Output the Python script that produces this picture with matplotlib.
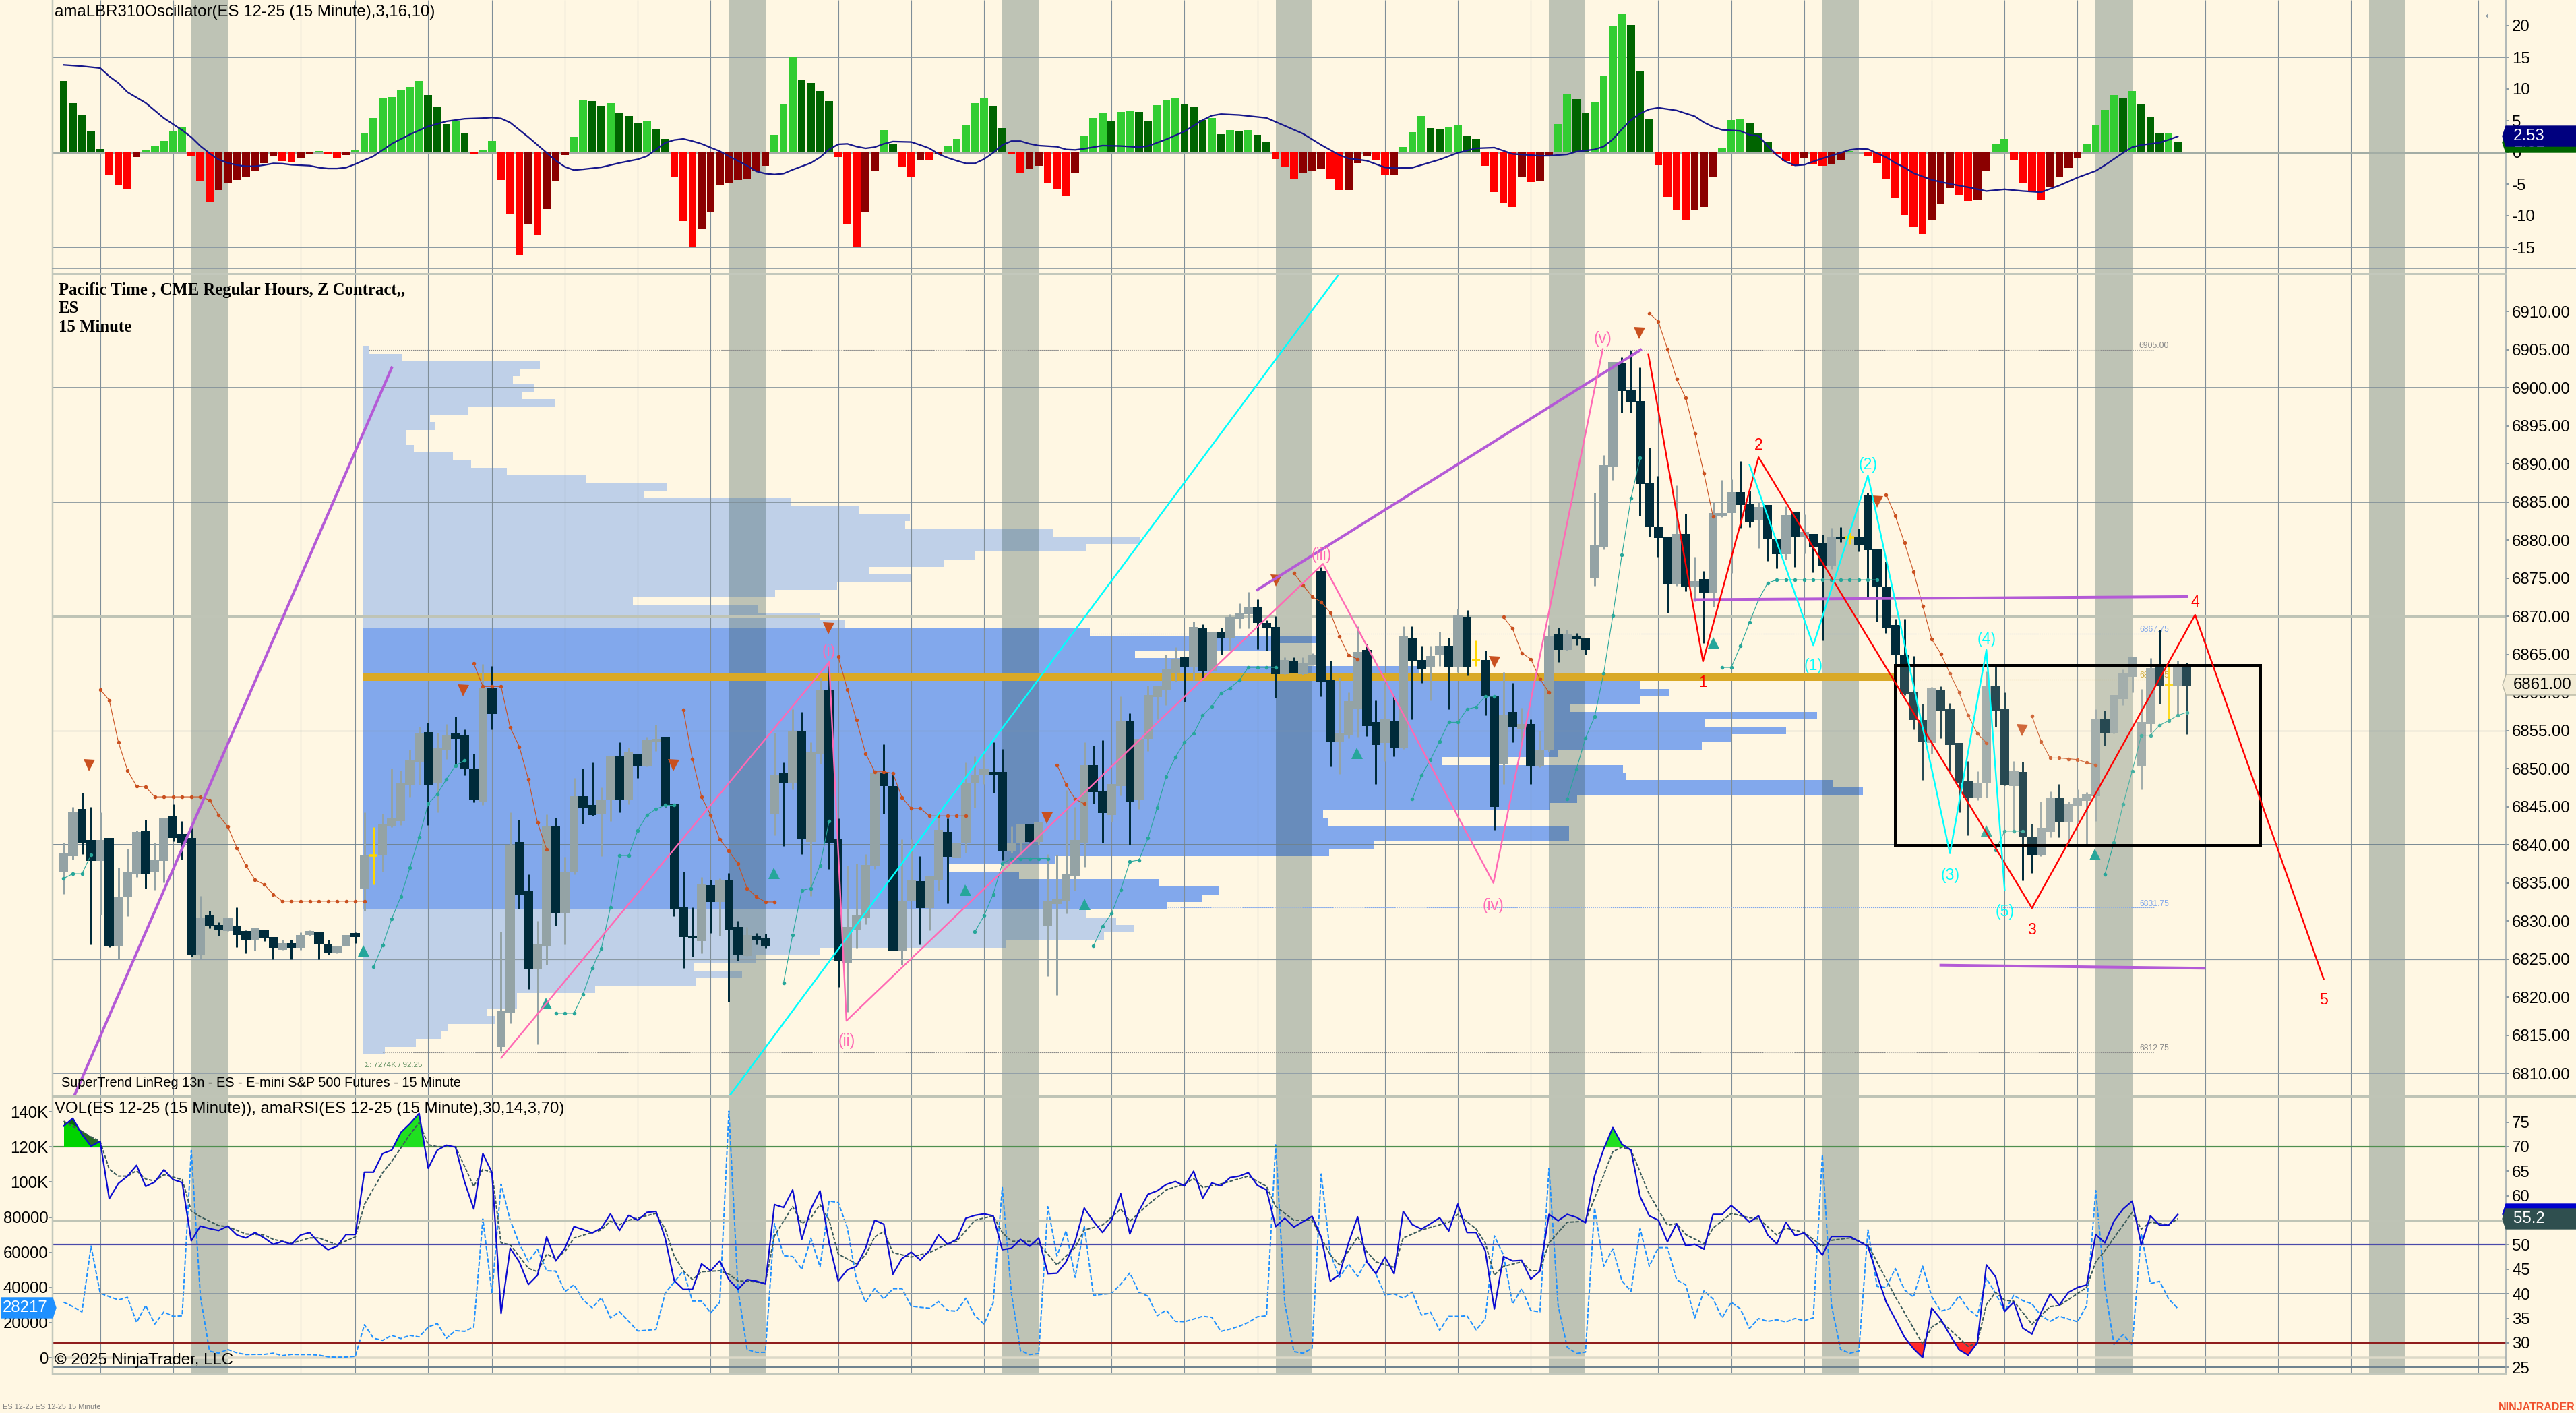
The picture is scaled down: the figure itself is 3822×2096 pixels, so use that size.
import numpy as np
import matplotlib
matplotlib.use("Agg")
import matplotlib.pyplot as plt
from matplotlib.patches import Polygon, Rectangle

plt.rcParams['font.family'] = ['Liberation Sans', 'DejaVu Sans']

# ---------- oscillator ----------
HIST_KIND = ("DDDDDRRRML" "LLLLRRRMMM" "MMMMRRMMLR" "RMLLLLLLLL" "DDDLDRLLRR" "RMRMMMLLDD" "LDDDLDDRRR" "MMMMMMMMLL"
             "LDDDDRRRMM" "LDRRMRMLLL" "LLDDRRMMRR" "RMLLLDLLDD" "LLLDDDLDLD" "LDDRRRMMMR" "RMMMRRMLLL" "DDLLDDRRRR"
             "MRMMLLDDLL" "LLDDDRRRRM" "MMLLLDDDRR" "RMRRMMLLRR" "RRRRRMMMRR" "MMLLRRRRMM" "MMLLLLDLDD" "DLD")
HIST = [11.23,7.75,5.97,3.41,.57,-3.63,-5.15,-5.87,-.71,.43,
        1.07,1.78,3.31,3.95,-.53,-4.48,-7.79,-5.94,-4.8,-4.37,
        -3.91,-2.95,-1.74,-.64,-1.42,-1.49,-.82,-.32,.21,-.18,
        -.85,-.39,.32,3.09,5.44,8.67,8.75,9.92,10.34,11.3,
        9.07,7.22,4.48,4.91,2.95,-.21,.32,1.78,-4.34,-9.7,
        -16.2,-11.4,-13,-8.9,-4.48,-.39,2.45,8.2,8.1,7.36,
        7.79,6.29,5.76,4.66,4.91,3.73,2.1,-3.91,-10.88,-14.9,
        -12.16,-9.35,-5.15,-4.87,-4.37,-4.19,-2.99,-2.17,2.77,7.68,
        15,11.41,10.98,9.7,8.07,-.71,-11.3,-14.93,-9.49,-2.84,
        3.52,1.32,-2.24,-3.95,-1.32,-1.32,-.36,1.07,2.17,4.37,
        7.79,8.64,7.36,3.8,-.32,-3.2,-2.67,-2.17,-4.8,-5.87,
        -6.79,-3.2,2.52,5.44,6.29,4.91,6.36,6.5,6.43,4.91,
        7.47,8.2,8.5,7.71,7.15,5.15,5.44,2.88,3.52,3.31,
        3.52,2.77,1.74,-1.07,-2.35,-4.23,-3.34,-2.95,-2.56,-4.3,
        -6,-5.94,-1.67,-.53,-1.28,-3.63,-3.52,.89,3.2,5.72,
        3.87,3.73,3.95,4.3,2.6,2.1,-2.1,-6.29,-8,-8.57,
        -3.95,-4.66,-4.55,-.53,4.48,9.28,8.43,6.29,8,12.16,
        19.94,21.83,20.1,12.76,5.23,-2.03,-7.04,-8.99,-10.63,-9.06,
        -8.57,-3.8,.64,5.15,5.23,4.73,3.09,1.67,-.21,-1.42,
        -2.1,-.89,-1.81,-2.1,-1.92,-1.32,.21,.05,-.5,-1.67,
        -4.16,-7.15,-9.85,-11.84,-12.9,-10.77,-8.14,-5.65,-6.72,-7.71,
        -7.47,-2.84,1.24,2.1,-1.21,-4.9,-6.11,-7.47,-5.58,-3.8,
        -2.49,-.96,1.32,4.23,6.65,9.07,8.67,9.7,7.57,5.69,
        2.95,3.09,1.6]
SIG_I = [0,2,4,5,6,7,9,11,13,14,15,16,17,18,19,20,21,22,23,24,25,27,28,29,30,31,32,34,36,38,40,42,44,46,47,48,49,51,53,54,55,56,57,59,61,63,64,65,66,67,68,69,70,71,72,73,74,75,76,77,78,79,80,82,83,84,85,86,87,88,89,
         90,91,93,94,95,96,97,98,99,100,101,102,103,104,105,106,107,109,110,111,112,114,116,118,119,121,123,125,126,127,129,132,134,136,138,140,141,143,145,146,148,151,153,155,157,159,162,163,165,166,168,169,170,171,172,173,174,175,177,179,180,181,182,184,185,
         186,187,188,189,190,191,193,195,196,197,198,199,200,201,202,203,205,207,209,211,213,215,217,219,221,223,224,226,227,228,230,231,232]
SIG_V = [13.8,13.6,13.3,12,10.95,9.5,7.8,5.4,3.5,2.4,1,-.14,-1.14,-1.67,-2,-2.2,-2.2,-2,-1.74,-1.78,-1.96,-2.1,-2.4,-2.56,-2.56,-2.4,-1.85,-.6,1.35,2.84,4.1,4.9,5.3,5.4,5.5,5.35,4.7,2.4,-.07,-1.3,-2.28,-2.8,-2.67,-2.35,-1.67,-1.1,-.6,.46,1.5,1.95,2.13,1.78,1.35,.75,.18,-.6,-1.35,-2.1,-2.99,-3.34,-3.48,-3.34,-2.74,-1.67,-.78,.46,1.28,1.35,.92,.64,.82,
         1.35,1.71,1.64,1.17,.64,-.25,-.85,-1.32,-1.74,-1.74,-1.07,-.07,1.17,1.78,1.78,1.35,1.07,.89,.46,.39,.57,1.07,1,.82,1,2.06,3.31,5.1,5.8,6.04,5.9,5.44,4.2,2.95,1.17,-.43,-.96,-1.32,-2.38,-2.49,-2.42,-1.14,-.07,.64,.75,-.25,-.53,-.53,-.32,.11,.46,.92,2.06,3.66,5.1,6.15,6.79,7.04,6.61,5.69,4.73,4.02,3.55,3.38,2.77,
         2.6,1,-.43,-1.49,-2.06,-1.96,-.96,-.07,.39,.57,.5,-.14,-.78,-1.67,-2.38,-3.27,-4.34,-4.98,-5.51,-6.11,-5.83,-6.11,-6.29,-5.23,-3.98,-2.92,-2.03,-.07,.82,1.17,1.53,1.99,2.52]

# ---------- candles ----------
C_KIND = ("GGDDGDGGGD" "GGDDDGDDGD" "DGDDGDGGDD" "GGDGYGGGGG" "DGGDDDGDGG" "DDGGDGGDDG" "GDGDGGDDDD" "GDGDDGDDGD"
          "GDGGDDGGGG" "DDGGDGGDGG" "GGDDGGDGGG" "GGGDDGGDGG" "GGGDGDGDGG" "GDDDGDGGDD" "GGGDDGDGDD" "GGDGDYDDGD"
          "GDGGDGDDGG" "GDDDDDDGDG" "DGGGDDGDDG" "DGDDGDYDDD" "DDDDDGDDDD" "GGDDGDDGGD" "GGGGDGGGGG" "DYGD")
B_TOP = [6838.9,6844.4,6844.7,6840.6,6840.6,6840.9,6833.2,6836.4,6841.7,6841.9,
         6838.1,6843.5,6843.7,6841.4,6840.9,6830.4,6830.7,6829.5,6830.4,6829.4,
         6828.7,6829,6828.9,6827.9,6827.1,6827.1,6828.2,6828.7,6828.5,6827,
         6826.7,6828.2,6828.4,6838.7,6838.6,6842.7,6843.5,6848.1,6851.2,6854.7,
         6854.8,6852.7,6854.4,6854.6,6854.4,6849.9,6860.6,6860.6,6818.2,6839.9,
         6840.4,6833.9,6827,6842.5,6842.4,6836.4,6846.4,6846.4,6845.2,6845.9,
         6851.7,6851.7,6852.2,6851.9,6853.7,6853.9,6854.2,6845.4,6831.9,6828.1,
         6834.9,6834.7,6835.4,6835.4,6829.2,6828.2,6828.1,6827.7,6849.1,6849.4,
         6854.9,6854.9,6852.2,6860.4,6860.4,6840.7,6829.2,6830.7,6837.4,6849.4,
         6849.4,6847.7,6832.7,6835.4,6835.2,6835.9,6842,6841.7,6840.2,6848.1,
         6849.2,6849.9,6849.6,6849.6,6840.2,6842.7,6842.7,6843,6832.7,6832.9,
         6836.2,6840.6,6850.5,6850.5,6847.1,6848,6856.2,6856.2,6853.9,6859.7,
         6860.9,6863.1,6864.4,6864.6,6868.6,6868.5,6867.9,6867.9,6869.9,6870.4,
         6871.3,6871.3,6869.1,6868.6,6864.3,6864.1,6863.8,6864.9,6876,6861.6,
         6854.6,6858.9,6865.3,6865.6,6856.1,6856.6,6856.3,6867.4,6867.1,6864.3,
         6864.8,6866.1,6866.1,6870.1,6869.9,6864.3,6864.3,6859.5,6857.1,6857.5,
         6855.9,6855.9,6852.4,6867.4,6867.6,6867.6,6867.4,6867.1,6879.3,6889.9,
         6903.4,6903.3,6899.8,6898.3,6887.6,6881.8,6880.4,6880.8,6880.8,6874.6,
         6874.9,6883.6,6883.6,6886.3,6886.3,6884.8,6884.4,6884.6,6880.2,6883.3,
         6883.7,6881.1,6880.8,6879.6,6880.4,6880.5,6880.4,6880.4,6885.9,6878.9,
         6873.9,6868.9,6864.9,6860.1,6856.4,6860.6,6860.4,6857.9,6853.4,6848.4,
         6848.2,6860.9,6860.9,6857.9,6849.7,6849.6,6841.1,6842.2,6846.2,6846.2,
         6845.4,6846.2,6846.7,6856.6,6856.6,6859.7,6862.6,6864.7,6856.1,6863.2,
         6863.5,6861,6863.5,6863.7]
B_BOT = [6836.4,6838.5,6840.3,6837.9,6837.9,6826.7,6826.7,6833.2,6836.1,6836.2,
         6836.4,6837.9,6840.9,6840.3,6825.5,6825.5,6829.4,6828.9,6828.7,6828.2,
         6827.5,6827.5,6827.7,6826.5,6826.2,6826.5,6826.5,6828.2,6827,6825.9,
         6825.9,6826.7,6827.9,6834.2,6838.6,6838.7,6842.5,6843.1,6847.9,6850.9,
         6847.9,6848.1,6852.4,6853.9,6849.9,6845.9,6845.6,6857.2,6813.5,6818,
         6833.5,6823.7,6823.7,6826.7,6831.1,6831.1,6836.4,6844.9,6843.9,6844.1,
         6845.9,6845.9,6845.9,6850.3,6850.3,6853.5,6845.1,6831.6,6827.9,6827.7,
         6827.4,6832.5,6832.5,6828.9,6825.6,6825.4,6827.5,6826.7,6844.1,6848.1,
         6848.1,6840.7,6840.4,6851.9,6840.2,6824.7,6824.4,6828.9,6830.4,6837.2,
         6847.7,6826.1,6826,6832.7,6831.7,6831.7,6835.4,6838.4,6838.3,6840.2,
         6848.1,6849.2,6849.2,6839.2,6839.2,6840.2,6840.4,6840.4,6829.3,6832.2,
         6832.7,6835.9,6840.2,6846.9,6844.2,6843.9,6847.7,6845.6,6845.9,6853.9,
         6859.4,6860.3,6862.6,6863.4,6863.4,6862.9,6862.9,6867.2,6867.2,6869.7,
         6870.3,6869.1,6868.4,6862.4,6862.4,6862.6,6862.4,6863.6,6861.4,6853.5,
         6853.5,6854.4,6857.8,6855.6,6853.1,6853.4,6852.7,6852.7,6864.1,6863.1,
         6863.4,6864.9,6863.4,6863.4,6863.4,6864.3,6859.5,6845,6850.6,6855.4,
         6855.2,6850.4,6850.4,6852.4,6865.6,6865.6,6867,6865.6,6875.1,6879.1,
         6889.6,6899.6,6898.1,6887.4,6881.8,6880.3,6874.3,6874.3,6873.9,6873.9,
         6873.1,6873.1,6883.1,6883.6,6884.6,6882.4,6882.6,6880.1,6878.2,6878.2,
         6880.4,6880.4,6879.1,6876.7,6876.7,6880.2,6880.4,6879.3,6878.7,6873.9,
         6868.4,6864.9,6859.8,6856.4,6853.6,6853.4,6857.6,6853.1,6848.2,6846.1,
         6846.1,6848.2,6857.6,6847.9,6847.7,6841,6838.7,6838.7,6841.7,6842.9,
         6842.9,6845.1,6845.8,6846.4,6854.6,6854.6,6859.1,6862.1,6850.4,6855.9,
         6860.8,6861,6860.8,6860.8]
C_HIGH = [6840.3,6845,6846.8,6845,6844.3,6840.9,6837,6839.5,6841.9,6843.3,
          6840.3,6843.5,6845.3,6843.1,6842.8,6833.3,6831.3,6829.8,6830.4,6831.8,
          6828.8,6829.1,6828.9,6827.9,6827.5,6827.5,6828.5,6828.8,6828.6,6827.5,
          6826.7,6828.2,6828.5,6844.3,6842.3,6844.1,6850,6849.8,6852.5,6855.5,
          6856,6854.7,6855.9,6856.8,6855.2,6852,6863.7,6863.5,6828.6,6844.3,
          6843.3,6836.1,6830,6844,6843.6,6838.4,6848.8,6850,6850.8,6847.5,
          6851.7,6853.5,6852.8,6851.9,6854.2,6855.8,6854.2,6845.4,6836.5,6831.8,
          6835.8,6835.4,6835.6,6836.3,6830,6829.2,6828.4,6828.3,6854.7,6850.8,
          6857.8,6857.5,6853.5,6862,6863.5,6843.5,6837.3,6837.5,6838.8,6849.6,
          6853.2,6849.4,6840.7,6840.7,6838.5,6835.9,6843.7,6843.5,6840.2,6850.8,
          6851.6,6852,6853.5,6852.6,6842.4,6842.7,6842.8,6843,6838.8,6838.7,
          6847.2,6845,6853.5,6853,6853.7,6848,6859.5,6857.3,6853.9,6860.9,
          6860.9,6865,6866,6864.6,6869.3,6869,6867.9,6868.5,6870.3,6871.7,
          6873.2,6872.2,6869.5,6870,6864.6,6864.6,6864.6,6865.2,6876.5,6864.2,
          6862,6860,6868.7,6866.4,6859,6861.3,6859.5,6868.7,6868.7,6866.1,
          6866.1,6868,6867.2,6871,6870.8,6866.8,6865.5,6859.5,6862.7,6861.3,
          6858,6856.5,6855,6868.9,6868.5,6868.3,6867.8,6867.1,6886.2,6891.2,
          6903.4,6904,6904.9,6902.7,6892.2,6888.4,6880.4,6887.2,6883.5,6877.8,
          6876,6885,6887.9,6888,6890.4,6886.5,6885,6884.6,6880.2,6884.5,
          6883.7,6883.4,6880.8,6880.7,6881.6,6881.7,6881,6881.5,6886.2,6878.9,
          6877.2,6869.7,6869.7,6864.8,6858.5,6860.7,6860.8,6858.6,6853.4,6851,
          6849.7,6862.8,6863.4,6860,6851,6850.9,6842.8,6845.7,6847,6848,
          6845.7,6847.3,6846.9,6857.8,6857.6,6859.7,6863,6864.7,6860.5,6864.5,
          6868.3,6863.4,6864.2,6863.9]
C_LOW = [6833.6,6838.1,6838.8,6826.9,6830.8,6826.6,6825,6830.6,6835.8,6834.3,
         6834.1,6835.1,6840.5,6838.1,6825.3,6825.1,6829,6828.1,6828.7,6826.6,
         6825.8,6826.1,6827.4,6825,6826.2,6825,6826.2,6828.1,6825,6825.6,
         6825.8,6826.7,6827.1,6831.3,6834.8,6836.5,6842.3,6842.6,6846.3,6847.9,
         6842.6,6844.3,6851.3,6850.4,6849.1,6845.6,6845.2,6855.2,6812.9,6816.6,
         6831.6,6821.1,6813.8,6824.3,6829.4,6826.9,6836.1,6842.8,6843.8,6838.5,
         6843.1,6844.3,6845.3,6848.8,6850.3,6852.3,6845,6830.6,6823.8,6825.3,
         6825.8,6828.4,6828.1,6819.4,6824.8,6825.4,6826.9,6826.5,6841.3,6839.8,
         6847.3,6838.8,6833.3,6850.6,6836.8,6821.3,6818.1,6826.5,6829.6,6836.8,
         6844.1,6826.1,6824.3,6832.7,6826.9,6828.8,6834,6832.3,6838.3,6839,
         6844.9,6848,6846.8,6838,6839,6838.7,6840.4,6840,6822.8,6820.3,
         6831,6834,6837.1,6845.4,6840.3,6843,6846.5,6840,6844.7,6852.3,
         6856.5,6858.3,6861.4,6858.8,6861.6,6861.8,6862.9,6865,6865.5,6868.4,
         6868.4,6865.7,6865.5,6859.3,6862.4,6862.6,6862.3,6863.6,6859.5,6850.3,
         6849.3,6854,6854.2,6854.3,6848,6851,6851.6,6852.6,6856.5,6861.3,
         6859,6863.5,6857.8,6862.7,6862.2,6863.5,6857,6842,6848,6853.5,
         6853,6848,6850.2,6852.2,6864,6865.5,6866.2,6865,6874,6878.8,
         6887.9,6896.8,6896.8,6883.2,6880.5,6877.8,6870.5,6874,6873.3,6872,
         6866.5,6871.3,6883,6875.7,6881.6,6881.7,6879,6877.3,6876.3,6877.5,
         6876.5,6878.3,6875.8,6866.8,6876.2,6879.8,6879.5,6878.5,6872.5,6869.3,
         6867.8,6863,6859.7,6855.2,6848.5,6852,6854,6849.7,6844.3,6841.3,
         6845.9,6846.2,6855.5,6847.8,6841.6,6835.3,6836.3,6838.5,6841,6841,
         6840.2,6843,6840.1,6843.1,6853,6854.6,6858.3,6860,6847.3,6854.8,
         6858.5,6856.4,6857.2,6854.5]

# ---------- SuperTrend runs: (first bar, values) ----------
ST_DOWN = [(4,[6860.4,6859,6853.5,6849.8,6847.7,6847.6,6846.3,6846.3,6846.3,6846.3,6846.3,6846.3,6845.9,6843.9,6842.4,6839.6,6837.3,6835.4,6834.8,6833.5,6832.6,6832.6,6832.6,6832.6,6832.6,6832.6,6832.6,6832.6,6832.6,6832.6]),
           (45,[6863.8,6860.8,6860.8,6860.8,6855.4,6852.9,6848.6,6842.9,6839.4]),
           (68,[6857.7,6851.3,6846.3,6843.9,6840.7,6839.2,6837.5,6834.3,6833.2,6832.5,6832.5]),
           (85,[6864.7,6860.4,6856.4,6852,6849.6,6849.6,6849.4,6846.2,6844.8,6844.8,6843.8,6843.8,6843.8,6843.8,6843.8]),
           (109,[6850.5,6847.9,6846,6845.4]),
           (135,[6875.7,6874.1,6872.6,6871.9,6870.5,6867.4,6864.9,6864.4]),
           (158,[6869.9,6868.4,6865.2,6864.4,6861.8,6860]),
           (174,[6909.8,6908.7,6905.1,6901.2,6898.7,6894,6888.8,6883.1]),
           (200,[6886,6883.2,6879.7,6875.9,6871.4,6867,6865.1,6862.5,6860,6857,6854.6,6853.4]),
           (216,[6856.9,6853.6,6851.4,6851.4,6851.3,6851.2,6850.8,6850.5])]
ST_UP = [(0,[6835.6,6836.2,6836.2,6838.7]),
         (34,[6824,6826.8,6830.3,6833.2,6837,6841,6845.4,6846.7,6848.6,6850.4,6851.1]),
         (54,[6817.9,6817.9,6817.9,6820.4,6823.8,6826.4,6831.8,6838.6,6838.6,6841.9,6843.9,6844.7,6845.2,6845.2]),
         (79,[6821.9,6828.2,6834,6834.3,6837.3,6843.1]),
         (100,[6828.6,6830.7,6833.5,6837.5,6838.2,6838.2,6838.2,6838.2,6838.2]),
         (113,[6826.7,6829.3,6831,6834.1,6837.8,6838,6840.9,6844.9,6849,6851.5,6853.5,6854.6,6857,6858.2,6859.9,6860.6,6861.6,6863.3,6863.3,6863.3,6863.3]),
         (148,[6846,6849.1,6851.2,6853.6,6856.1,6856.1,6857.8,6858.1,6859.5,6859.5]),
         (165,[6846,6849.9,6854,6856.8,6862.5,6870.1,6878.1,6885.5,6890.8]),
         (182,[6863.3,6863.3,6866.1,6869.2,6872.2,6874.4,6874.8,6874.8,6874.8,6874.8,6874.8,6874.8,6874.8,6874.8,6874.8,6874.8,6874.8,6874.8]),
         (212,[6839.3,6841.8,6841.8,6841.8]),
         (224,[6836.1,6840.3,6845.3,6849.7,6854.4,6854.4,6855.7,6856.3,6857,6857.4])]
ARROW_DOWN_I = [2.8,43.8,66.9,83.9,107.9,133,172.9,157,199,214.9]
ARROW_DOWN_P = [6850.5,6860.3,6850.5,6868.4,6843.6,6874.7,6907.2,6864,6885.1,6855.1]
ARROW_UP_I = [32.9,52.9,77.9,98.9,112,141.9,181,211,222.9]
ARROW_UP_P = [6826.1,6819.2,6836.3,6834.1,6832.2,6852.1,6866.6,6841.9,6838.8]

# ---------- volume profile (levels 6905 down to 6813, relative volume) ----------
VP_TOP = 6905
VP_VOL = [8,58,262,233,222,254,235,284,155,99,107,64,64,75,133,160,213,331,451,416,634,735,811,804,1023,1152,1072,907,862,751,813,703,611,400,586,678,715,
          1078,1414,1353,1145,1258,1566,2276,1895,1938,1895,1791,2157,1990,2111,2029,1986,1772,1600,1869,1874,2181,2225,1801,1761,1424,1432,1789,1789,1500,1433,1027,868,973,1181,1270,1245,1192,
          1072,1117,1143,1099,953,678,583,490,562,494,344,228,228,184,196,125,115,78,32]
VA_HIGH, VA_LOW, POC = 6868, 6832, 6862

# ---------- drawn tools ----------
TREND_LINES = [([1.15,36],[6807,6902.65]),([131,173.05],[6873.5,6905]),([179,233],[6872.2,6872.6]),([206,234.9],[6824.2,6823.8])]
CYAN_LINE = ([73.05,140.3],[6807,6915.5])
WAVE_PINK = ([48,84,85.9,138.2,156.9,168.9],[6812,6864,6816.9,6876.9,6835,6905.1])
WAVE_RED = ([173.9,179.9,186,216,233.9,248],[6904.4,6864.1,6890.9,6831.7,6870.2,6822.4])
WAVE_CYAN = ([185,192,198,207,211,213],[6889.9,6866.2,6888.5,6838.9,6865.6,6834.1])
WAVE_LABELS = [("(i)",84,6865.4,'#ff69b4'),("(ii)",85.9,6814.2,'#ff69b4'),("(iii)",138,6878,'#ff69b4'),("(iv)",156.9,6832,'#ff69b4'),("(v)",168.9,6906.5,'#ff69b4'),
               ("1",179.9,6861.3,'red'),("2",186,6892.5,'red'),("3",216,6828.8,'red'),("4",233.9,6871.8,'red'),("5",248,6819.6,'red'),
               ("(1)",192,6863.5,'cyan'),("(2)",198,6889.9,'cyan'),("(3)",207,6836,'cyan'),("(4)",211,6867,'cyan'),("(5)",213,6831.2,'cyan')]
BOX_I, BOX_P = (201,241.1),(6839.9,6863.6)
LEVELS = [(6905,"6905.00",'#8a8a8a',33.5),(6867.75,"6867.75",'#82a8ec',112),(6861.75,"6861.75",'#c9a227',201),(6831.75,"6831.75",'#82a8ec',121),(6812.75,"6812.75",'#8a8a8a',35)]

# ---------- RSI / volume ----------
RSI = [74.2,75.8,72.5,70.1,71.1,59.4,62.5,64,66.2,61.9,62.8,65.3,63.3,62.7,50.8,53.8,53.3,52.9,53.8,52,51.4,52.5,51.4,50.1,50.7,50.1,52,52.5,50.4,49,49.7,52.1,52.1,64.8,64.8,68.6,69.3,72.9,74.7,76.8,65.6,69.3,70.3,69.9,62.8,57.3,68.6,64.7,36,49.3,46.5,41.9,43.8,51.6,46.7,49.3,53.7,53.1,52.4,53.4,56.3,52.9,56,55,56.6,56.8,51.4,42.7,40.9,40.9,46.1,44.7,46.7,42.9,40.9,42.9,42.6,42,58.2,57.6,61.2,51.1,57.3,61,50.4,42.6,44.9,45.6,49.3,55,
       54.2,44,47.2,48.5,46.9,48.8,52,50.1,51.1,55.4,56,56.3,55.9,49,49.3,51.1,49.7,51.4,44.1,44.2,46.5,50.7,57.5,54.8,52.5,55,60.4,52.2,56.9,60.3,61,62.3,62.9,62,65,59.5,62.6,62,63.7,64,64.7,62.1,61.2,53.7,55.4,53.6,54.7,55.8,51.6,42.6,43.9,50.4,55.7,46.5,44.1,47.5,44.1,56.8,54.1,53.2,54.3,55.5,52.8,58.3,52.5,52.5,48.8,36.9,47.6,46.7,46.8,43,44.6,56.2,54.9,56.2,55.6,54.5,64,69.5,73.9,70.5,69.3,59.8,55.9,55,50.6,54.3,49.8,50.1,49.1,56.2,56.2,58,56.4,54.6,
       55.9,52,50.2,54.6,51.9,52.4,50.4,47.9,51.7,51.7,51.7,50.7,49.7,43.8,38.3,34.8,31.2,28.8,27,37.1,34.8,31.6,28.6,27.5,30,45.9,43.5,36.4,38.3,33,31.8,36.2,40,37.7,40.3,41.3,41.8,52.1,50.4,54.8,57.3,58.9,50,55.9,54,54,56.2]
AVG_I = [0,3,4,5,6,7,8,9,10,11,13,14,15,17,18,20,22,23,25,27,28,30,32,33,35,36,38,39,40,41,43,45,46,47,48,49,51,52,53,54,55,56,58,59,60,61,62,65,66,67,68,69,70,72,73,74,75,77,78,80,81,82,83,84,85,87,88,89,
         90,91,93,95,97,98,100,102,103,104,106,107,109,111,112,114,116,117,119,121,123,124,125,127,130,132,133,135,137,139,140,142,143,144,146,147,149,152,153,155,156,157,158,160,161,162,163,165,167,169,170,171,172,174,176,177,178,180,181,183,185,
         186,188,189,191,193,194,196,198,201,204,205,206,209,210,211,212,213,214,216,218,219,222,223,224,227,228,229,231,232]
AVG_V = [75.2,72,71.1,65.4,64,64,65.1,63.4,63,64.3,63.3,56.9,55.7,53.9,53.7,52.2,52,51.1,50.3,51.4,51.4,50,51.6,58.2,64.7,67,72.5,74.9,70.4,70,70,61.9,65.4,64.7,50.4,50,45.2,44.5,48.1,47.2,48.6,51.4,52.5,53,54.8,54.1,55,56.4,53.2,47.7,44.7,42.9,44.5,44.7,44,42.6,42.6,42.2,51.8,57.8,54.3,55.5,58.2,55,48.1,46.1,47.9,51.6,
         52.7,48.4,47.5,48.4,50.2,50.7,55,55.9,52.5,50.7,50.7,50.2,45.9,49.5,53,54,57.3,54.8,58.2,61.2,62.4,63.5,61.7,62.4,64,61.9,57.8,55,55,47.9,45.9,51.6,48.6,46.5,45.4,51.4,53,54.6,56.2,53.2,50.4,43.8,45.6,46.5,44.7,44.7,50.4,54.6,54.8,64.2,69,69.9,69.3,60.3,54,54.3,52.1,50.2,53.4,56.4,55.5,
         55.3,52,53.4,52.5,49.7,50.9,51.4,50,39.4,29.8,33.2,34.4,29.3,30,37.8,40.3,38.7,38.5,33.8,37.4,37.6,41.3,46.5,48.8,56.6,53.2,54.6,54.1,55.3]
VOLK = [31.6,29.1,26.1,63.6,36.7,34.8,32.9,34.4,20.1,29.7,19.2,26.1,23.6,23.9,118,34.8,3.8,2.6,4.7,2.8,1.8,1.9,1.9,2.6,1.2,1.9,1.8,1.8,1.5,.5,.3,.4,.8,18.8,11.1,9.9,12.7,10.9,12.7,11.8,17.5,19.5,11.1,15.4,15,17.5,79,36.7,98.8,78.3,64.9,54.7,61.7,49.5,49.3,37.6,41.5,32.9,28.4,34.2,22.7,26.1,20.7,15.2,15.6,16.1,36.7,43.1,49.5,32.3,32.3,25.5,31.6,140.4,38.7,4.7,3.1,3.1,76.4,58.1,57.6,50.4,68.1,51.7,89.2,88.3,73.9,44.4,31.6,39.3,
        33.5,39.3,39.3,29.4,28.7,28.2,32,26.9,26.5,33.9,23.9,19.1,31.2,96.9,36.7,4.1,1.8,2.4,86,57.9,72.3,45.7,75.1,35.5,36.1,36.6,41.9,48.3,37.1,35.1,23.9,27.1,20.7,20.5,22,23.6,23,15,16.3,17.9,20.1,23.3,23.9,121.2,31,3.5,2.6,5.4,104.6,59.1,45.7,53.4,46.3,55.3,47.6,35.8,36.4,33.9,37.4,24.3,25.9,15.6,23.6,23.6,23.9,15.9,22,69.4,58.5,30.7,39.3,26.9,26.1,107.8,29.7,6,2.4,3.2,85.4,52.1,62,43.8,37.8,73.5,52.1,62.7,62.7,44.4,41.5,22.7,38,33.5,22.7,31.6,27.8,16.6,
        22.3,20.7,21.6,20.4,22.3,21.1,22.7,115.5,29.7,4.7,2.6,3.8,72.8,40.6,39.9,50.8,38.7,34.6,52.1,34.8,26.5,28,35.2,27.8,23.6,45.1,36.7,26.5,35.5,32.5,30.7,23.9,20.7,23.6,22,20.5,29.7,95.2,39.9,7.6,13.1,7.3,70.7,42.2,43.5,33.5,28]
OB_AVG = [75.2,74.5,73.3,72,71.1]

# ---------- time axis ----------
TICK_I = [4,12,26,40,55,63,71,85,93,101,115,123,131,145,153,161,175,183,191,205,213,221,235,243,251,265]
TICK_L = ["10:30 AM","12:30 PM","Nov 27","Nov 28","Dec 1","10:30 AM","12:30 PM","Dec 2","10:30 AM","12:30 PM","Dec 3","10:30 AM","12:30 PM","Dec 4","10:30 AM","12:30 PM","Dec 5","10:30 AM","12:30 PM","Dec 8","10:30 AM","12:30 PM","Dec 9","10:30 AM","12:30 PM","Dec 10"]
EXTRA_V = [32,47]
BANDS = [(14,18),(73,77),(103,107),(133,137),(163,167),(193,197),(223,227),(253,257)]

# ---------- layout ----------
W, H = 3823, 2096
BG = '#fff7e3'
GRID = '#7f8e98'
px = 0.72            # points per pixel at 100 dpi
X0, X1 = 78, 3718
fig = plt.figure(figsize=(W/100, H/100), dpi=100, facecolor=BG)
def panel(y0, y1):
    a = fig.add_axes([X0/W, 1-y1/H, (X1-X0)/W, (y1-y0)/H], facecolor=BG)
    a.set_xlim((X0-94.5)/13.52, (X1-94.5)/13.52)
    for s in a.spines.values():
        s.set_visible(False)
    return a
ax_t = panel(0, 406)
ax_p = panel(406, 1626)
ax_v = panel(1626, 2038)
ax_r = ax_v.twinx()
ax_r.set_xlim(ax_v.get_xlim())
for s in ax_r.spines.values():
    s.set_visible(False)
ax_t.set_ylim((226-406)/9.4, 226/9.4)
ax_p.set_ylim(6807, 6915)
ax_v.set_ylim(-9.2, 148.9)
ax_r.set_ylim(23.67, 80.3)
for a in (ax_t, ax_p, ax_v):
    for b0, b1 in BANDS:
        a.axvspan(b0, b1, color='#2f4f4f', alpha=0.31, lw=0, zorder=2)
    a.vlines(TICK_I+EXTRA_V, *a.get_ylim(), color=GRID, lw=1.1*px, zorder=2.5)
    a.set_xticks([])
ax_t.set_yticks([]); ax_p.set_yticks([])

# oscillator
cmap = {'D':'#006400','L':'#32cd32','R':'#ff0000','M':'#8b0000'}
for yv in (15, -15):
    ax_t.axhline(yv, color='#8d9ba3', lw=2*px, zorder=2.6)
ax_t.axhline(0, color='#a3ada5', lw=3*px, zorder=2.6)
ax_t.bar(np.arange(len(HIST)), HIST, width=0.86, color=[cmap[k] for k in HIST_KIND], zorder=3)
ax_t.plot(SIG_I, SIG_V, color='#17178a', lw=2.3*px, zorder=4)

# profile
levels = VP_TOP-np.arange(len(VP_VOL))
widths = np.array(VP_VOL)/13.52
cols = ['#82a8ec' if VA_LOW <= l <= VA_HIGH else '#bfd0e8' for l in levels]
ax_p.barh(levels, widths, height=1.0, left=32.87, color=cols, lw=0, zorder=1)
ax_p.barh([POC], [VP_VOL[VP_TOP-POC]/13.52], height=1.0, left=32.87, color='#d9a927', lw=0, zorder=2.7)
ax_p.text(33.0, 6811.1, "Σ: 7274K / 92.25", color='#5f8f5f', fontsize=11.5*px, va='center', ha='left', zorder=5)
hstyle = {6900:('#7e8d96',1.6),6885:('#7e8d96',1.6),6870:('#bfc4b6',3),6855:('#8a99a3',1.2),6840:('#6f828e',1.8),6825:('#8a99a3',1.2),6810:('#93a0a8',2)}
for lv,(c,w) in hstyle.items():
    ax_p.axhline(lv, color=c, lw=w*px, zorder=2.6)
for lv,lab,c,start in LEVELS:
    ax_p.plot([start,229.4],[lv,lv], color=c, lw=1.1*px, ls=(0,(1.5,1.2)), zorder=2.8)
    ax_p.text(229.4, lv+0.5, lab, color=c, fontsize=11*px*1.1, ha='center', va='center', zorder=2.9)

# candles
x = np.arange(len(C_KIND))
ccol = {'G':'#94a3a5','D':'#002b3a','Y':'#ffd700'}
colors = [ccol[k] for k in C_KIND]
ax_p.vlines(x, C_LOW, C_HIGH, colors=colors, lw=3*px, zorder=3)
ax_p.bar(x, np.array(B_TOP)-np.array(B_BOT), bottom=B_BOT, width=1.0, color=colors, lw=0, zorder=3.1)
for i,k in enumerate(C_KIND):
    if k == 'Y':
        ax_p.plot([i-0.45,i+0.45],[B_TOP[i],B_TOP[i]], color=ccol['Y'], lw=3.5*px, zorder=3.2, solid_capstyle='butt')

# supertrend
for runs,c in ((ST_DOWN,'#c9501f'),(ST_UP,'#26a69a')):
    for start,vals in runs:
        ax_p.plot(np.arange(start,start+len(vals)), vals, color=c, lw=1.1*px, marker='o', ms=5.5*px, mew=0, zorder=4)
ax_p.plot(ARROW_DOWN_I, ARROW_DOWN_P, ls='', marker='v', ms=17*px, color='#c9501f', mew=0, zorder=4.1)
ax_p.plot(ARROW_UP_I, ARROW_UP_P, ls='', marker='^', ms=17*px, color='#26a69a', mew=0, zorder=4.1)

# box
ax_p.add_patch(Rectangle((BOX_I[0],BOX_P[0]),BOX_I[1]-BOX_I[0],BOX_P[1]-BOX_P[0],facecolor='#f5ebd2',alpha=0.16,lw=0,zorder=4.2))
ax_p.add_patch(Rectangle((BOX_I[0],BOX_P[0]),BOX_I[1]-BOX_I[0],BOX_P[1]-BOX_P[0],fill=False,edgecolor='black',lw=4*px,zorder=4.3))

# tools
for xs,ys in TREND_LINES:
    ax_p.plot(xs, ys, color='#b45ad6', lw=4*px, zorder=4.5)
ax_p.plot(*CYAN_LINE, color='cyan', lw=2.5*px, zorder=4.5)
ax_p.plot(*WAVE_PINK, color='#ff69b4', lw=2.4*px, zorder=4.5)
ax_p.plot(*WAVE_RED, color='red', lw=2.4*px, zorder=4.6)
ax_p.plot(*WAVE_CYAN, color='cyan', lw=2.4*px, zorder=4.6)
for lab,i,p,c in WAVE_LABELS:
    ax_p.text(i, p, lab, color=c, fontsize=23*px, ha='center', va='center', zorder=5)

# lower panel
ax_v.axhline(0, color='#dcd9c8', lw=3.5*px, zorder=2.6)
ax_v.plot(np.arange(len(VOLK)), VOLK, color='#1e90ff', lw=2*px, ls=(0,(3.2,1.4)), zorder=3)
hr = {70:('#4f8f4f',2.2),30:('#8f1d1d',2.2),50:('#4a4aaa',2.2),55:('#bfc4b6',3),40:('#8d9ba3',2),25:('#6f838f',2)}
for lv,(c,w) in hr.items():
    ax_r.axhline(lv, color=c, lw=w*px, zorder=1)
rsi = np.array(RSI); xr = np.arange(len(RSI))
ax_r.fill_between(xr[:5], 70, rsi[:5], color='#00d400', lw=0, zorder=2)
ax_r.fill_between(xr[:5], rsi[:5], OB_AVG, color='#0e5a0e', lw=0, alpha=0.9, zorder=2)
ax_r.fill_between(xr[5:], 70, rsi[5:], where=rsi[5:]>=70, interpolate=True, color='#20e020', lw=0, zorder=2)
ax_r.fill_between(xr, 30, rsi, where=rsi<=30, interpolate=True, color='#ff2a2a', lw=0, zorder=2)
ax_r.plot(AVG_I, AVG_V, color='#3a5a5a', lw=2*px, ls=(0,(2.6,1.2)), zorder=3)
ax_r.plot(xr, rsi, color='#0a0ad0', lw=2.2*px, zorder=4)

# axes ticks
FS = 24*px
TC = '#8d9ba3'
ax_t.yaxis.tick_right()
ax_t.set_yticks([20,15,10,5,0,-5,-10,-15], ["20","15","10","5","0","-5","-10","-15"])
ax_p.yaxis.tick_right()
pt = np.arange(6810,6911,5)
ax_p.set_yticks(pt, [f"{v}.00" for v in pt])
ax_r.yaxis.tick_right()
rt = np.arange(25,76,5)
ax_r.set_yticks(rt, [str(v) for v in rt])
for a in (ax_t, ax_p, ax_r):
    a.tick_params(axis='y', length=5*px, width=2*px, color=TC, labelsize=FS, pad=3, labelcolor='black')
ax_v.yaxis.tick_left()
ax_v.set_yticks([0,20,40,60,80,100,120,140], ["0","20000","40000","60000","80000","100K","120K","140K"])
ax_v.tick_params(axis='y', length=5*px, width=2*px, color=TC, labelsize=FS, pad=1, labelcolor='black')
ax_v.set_xticks(TICK_I+EXTRA_V, TICK_L+[""]*len(EXTRA_V))
ax_v.tick_params(axis='x', length=5*px, width=1.2*px, color=GRID, labelsize=FS, pad=8)
ax_r.set_xticks([])

# overlay: frame, captions, price tags
d = fig.add_axes([0,0,1,1], facecolor='none', zorder=20)
d.set_xlim(0,W); d.set_ylim(H,0); d.axis('off')
d.plot([X0,X0],[0,2038], color='#c3c8bc', lw=2.5*px)
d.plot([X1,X1],[0,2038], color='#9aa6ac', lw=1.5*px)
d.plot([X0,W],[398,398], color='#8b98a0', lw=1.7*px)
d.plot([X0,X1],[406,406], color='#c3c8bc', lw=3*px)
d.plot([X0,W],[1626,1626], color='#bfc4b6', lw=3*px)
d.plot([X0,X1],[2038,2038], color='#c3c8bc', lw=3*px)
d.text(81,18,"amaLBR310Oscillator(ES 12-25 (15 Minute),3,16,10)",fontsize=24*px,va='center',ha='left')
hfont = dict(fontsize=24.7*px,va='center',ha='left',family='Liberation Serif',weight='bold')
d.text(87,430,"Pacific Time , CME Regular Hours, Z Contract,,",**hfont)
d.text(87,457,"ES",**hfont)
d.text(87,486,"15 Minute",**hfont)
d.text(91,1607,"SuperTrend LinReg 13n - ES - E-mini S&P 500 Futures - 15 Minute",fontsize=20*px,va='center',ha='left')
d.text(81,1645,"VOL(ES 12-25 (15 Minute)), amaRSI(ES 12-25 (15 Minute),30,14,3,70)",fontsize=24*px,va='center',ha='left')
d.text(81,2018,"© 2025 NinjaTrader, LLC",fontsize=24*px,va='center',ha='left')
d.text(4,2087,"ES 12-25 ES 12-25 15 Minute",fontsize=11*px,va='center',ha='left',color='#7d7d7d')
d.text(3821,2087,"NINJATRADER",fontsize=16*px,va='center',ha='right',color='#f0502d',weight='bold')
d.text(3694,21,"←",fontsize=24*px,va='center',ha='center',color='#7a8b99')
tag_z = [10]
def tag_right(y0,y1,fc,txt,tc,ec=None,x0=3718,x1=3823):
    ym=(y0+y1)/2
    tag_z[0]+=1
    d.add_patch(Polygon([(x0-5,ym),(x0,y0),(x1,y0),(x1,y1),(x0,y1)],closed=True,facecolor=fc,edgecolor=ec or fc,lw=1,zorder=tag_z[0]))
    if txt:
        tag_z[0]+=1
        d.text(x0+11,ym,txt,color=tc,fontsize=FS,va='center',ha='left',zorder=tag_z[0])
tag_right(197,226,'#006400',"1.61",'white')
tag_right(187,217,'#00007f',"2.53",'white')
tag_right(1001,1031,'#f3ecd6',"6861.00",'black',ec='#b5b5a5')
tag_right(1786,1816,'#0000cd',"",'white')
tag_right(1793,1823,'#2f4f4f',"55.2",'white')
d.add_patch(Polygon([(2,1925),(78,1925),(83,1940),(78,1955),(2,1955)],closed=True,facecolor='#1e90ff',edgecolor='#1e90ff',zorder=tag_z[0]+1))
d.text(4,1940,"28217",color='white',fontsize=FS,va='center',ha='left',zorder=tag_z[0]+2)

fig.savefig("out.png", dpi=100, facecolor=BG)
